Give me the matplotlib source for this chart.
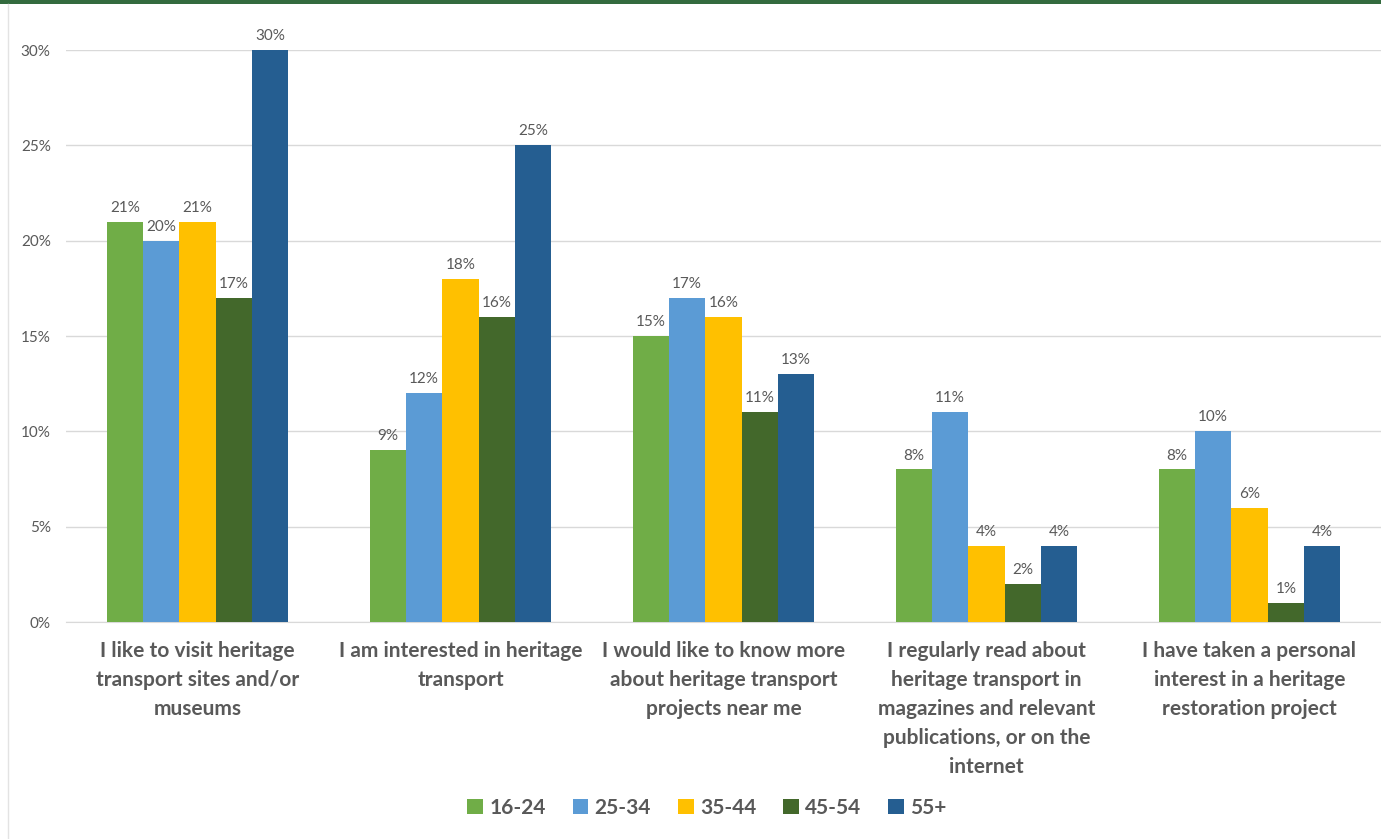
import matplotlib
matplotlib.use("Agg")
import matplotlib.pyplot as plt
import numpy as np
from matplotlib.lines import Line2D
from matplotlib.patches import Rectangle, Patch
from matplotlib.ticker import FuncFormatter, MultipleLocator

categories = [
    "I like to visit heritage\ntransport sites and/or\nmuseums",
    "I am interested in heritage\ntransport",
    "I would like to know more\nabout heritage transport\nprojects near me",
    "I regularly read about\nheritage transport in\nmagazines and relevant\npublications, or on the\ninternet",
    "I have taken a personal\ninterest in a heritage\nrestoration project",
]
age_groups = ["16-24", "25-34", "35-44", "45-54", "55+"]
age_16_24 = [21, 9, 15, 8, 8]
age_25_34 = [20, 12, 17, 11, 10]
age_35_44 = [21, 18, 16, 4, 6]
age_45_54 = [17, 16, 11, 2, 1]
age_55_plus = [30, 25, 13, 4, 4]
series = [age_16_24, age_25_34, age_35_44, age_45_54, age_55_plus]
colors = ["#70AD47", "#5B9BD5", "#FFC000", "#43682B", "#255E91"]

TEXT = "#595959"
plt.rcParams["font.family"] = ["Lato", "DejaVu Sans"]

fig = plt.figure(figsize=(13.81, 8.39), dpi=100)
ax = fig.add_axes([66 / 1381, 1 - 622 / 839, 1 - 66 / 1381, (622 - 50) / 839])

x = np.arange(len(categories))
group_w = 0.69
bar_w = group_w / len(series)
for i, (vals, col, name) in enumerate(zip(series, colors, age_groups)):
    pos = x - group_w / 2 + bar_w * (i + 0.5)
    bars = ax.bar(pos, vals, width=bar_w, color=col, label=name, zorder=3)
    for b, v in zip(bars, vals):
        ax.annotate(f"{v}%", (b.get_x() + b.get_width() / 2, v),
                    xytext=(0, 5), textcoords="offset points",
                    ha="center", va="bottom", fontsize=11, color=TEXT,
                    annotation_clip=False)

ax.set_xlim(-0.5, len(categories) - 0.5)
ax.set_ylim(0, 30)
ax.yaxis.set_major_locator(MultipleLocator(5))
ax.yaxis.set_major_formatter(FuncFormatter(lambda v, _: f"{v:.0f}%"))
ax.yaxis.grid(True, color="#D9D9D9", linewidth=1, zorder=0)
ax.set_axisbelow(True)
for s in ["top", "right", "left"]:
    ax.spines[s].set_visible(False)
ax.spines["bottom"].set_color("#D9D9D9")
ax.tick_params(axis="y", length=0, pad=11, labelsize=11, labelcolor=TEXT)
ax.tick_params(axis="x", length=0, pad=14)
ax.set_xticks(x)
ax.set_xticklabels(categories, fontsize=15, fontweight="bold", color=TEXT,
                   linespacing=1.55, va="top")

handles = [Patch(facecolor=c, label=n) for c, n in zip(colors, age_groups)]
fig.legend(handles=handles, loc="center", bbox_to_anchor=(707 / 1381, 1 - 808 / 839),
           ncol=5, frameon=False, prop={"size": 15, "weight": "bold"},
           labelcolor=TEXT, handlelength=0.75, handleheight=0.75,
           handletextpad=0.3, columnspacing=1.3)

# page frame: green band on top, thin grey rule at the left
fig.add_artist(Rectangle((0, 1 - 4 / 839), 1, 4 / 839, transform=fig.transFigure,
                         facecolor="#336B3E", edgecolor="none"))
fig.add_artist(Line2D([8 / 1381, 8 / 1381], [0, 1 - 4 / 839], transform=fig.transFigure,
                      color="#E3E3E3", linewidth=1))

fig.savefig("out.png", dpi=100, facecolor="white")
